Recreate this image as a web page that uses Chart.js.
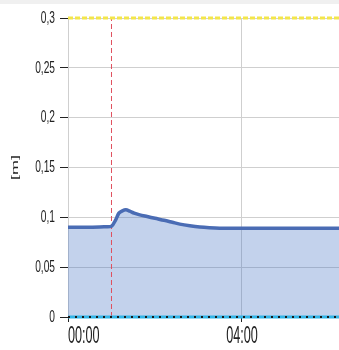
<!DOCTYPE html>
<html>
<head>
<meta charset="utf-8">
<script src="https://cdn.jsdelivr.net/npm/chart.js@4/dist/chart.umd.min.js"></script>
<style>
  html, body { margin: 0; padding: 0; background: #fff; }
  #wrap { position: relative; width: 339px; height: 350px; }
  #topband { position: absolute; left: 0; top: 0; width: 339px; height: 4px; background: #f0f0f0; }
  canvas { display: block; }
</style>
</head>
<body>
<div id="wrap">
  <canvas id="c" width="339" height="350"></canvas>
  <div id="topband"></div>
</div>
<script>
// Water level over time (hours from 00:00), in metres
const hours  = [0, 0.5, 0.83, 1.0, 1.09, 1.17, 1.25, 1.33, 1.42, 1.52, 1.65, 1.82, 2.0, 2.21, 2.4, 2.57, 2.8, 3.03, 3.25, 3.49, 4.0, 5.0, 6.23];
const levels = [0.090, 0.090, 0.0905, 0.091, 0.097, 0.1042, 0.1065, 0.1075, 0.1062, 0.1042, 0.1025, 0.1008, 0.099, 0.097, 0.095, 0.0932, 0.0915, 0.0902, 0.0895, 0.0891, 0.089, 0.089, 0.089];

// Limits and marker
const upperLimit = 0.3;
const lowerLimit = 0;
const markerHour = 1.0;

// Axis ticks
const xTickHours = [0, 4];
const yTickValues = [0, 0.05, 0.1, 0.15, 0.2, 0.25, 0.3];
const xMin = 0, xMax = 6.23;

const levelPoints = hours.map((h, i) => ({ x: h, y: levels[i] }));
const span = v => [{ x: xMin, y: v }, { x: xMax, y: v }];

const face = "'Liberation Sans', Arial, sans-serif";
const Y_TICK_SIZE = 17, X_TICK_SIZE = 23, TITLE_SIZE = 18;

// Condensed lettering: squeeze glyphs along x (ticks) or along the
// rotated title's height, keyed by font size.
const squeeze = { [Y_TICK_SIZE]: [0.6, 1], [X_TICK_SIZE]: [0.55, 1], [TITLE_SIZE]: [1, 0.55] };
const condensedText = {
  id: 'condensedText',
  beforeInit(chart) {
    const ctx = chart.ctx;
    const base = ctx.fillText.bind(ctx);
    ctx.fillText = function (t, x, y, mw) {
      const m = /(\d+(?:\.\d+)?)px/.exec(ctx.font);
      const k = m && squeeze[Math.round(+m[1])];
      if (!k) return mw === undefined ? base(t, x, y) : base(t, x, y, mw);
      ctx.save();
      ctx.scale(k[0], k[1]);
      base(t, x / k[0], y / k[1]);
      ctx.restore();
    };
  }
};

new Chart(document.getElementById('c'), {
  type: 'line',
  plugins: [condensedText],
  data: {
    datasets: [
      { // blue level line
        data: levelPoints, borderColor: '#4a6cb4', borderWidth: 3.5,
        pointRadius: 0, fill: false, tension: 0.3, order: 0
      },
      { // lower limit, dotted overlay
        data: span(lowerLimit), borderColor: '#1a1a1a', borderWidth: 2,
        borderDash: [2, 5], pointRadius: 0, fill: false, order: 1, clip: 4
      },
      { // lower limit
        data: span(lowerLimit), borderColor: '#33b5e8', borderWidth: 3,
        pointRadius: 0, fill: false, order: 2, clip: 4
      },
      { // upper limit
        data: span(upperLimit), borderColor: '#f3e64a', borderWidth: 3,
        borderDash: [5, 2], pointRadius: 0, fill: false, order: 3, clip: 4
      },
      { // time marker
        data: [{ x: markerHour, y: 0 }, { x: markerHour, y: upperLimit }],
        borderColor: '#e0505f', borderWidth: 1, borderDash: [5, 3],
        pointRadius: 0, fill: false, order: 4
      },
      { // area under the level
        data: levelPoints, borderWidth: 0, borderColor: 'rgba(0,0,0,0)',
        backgroundColor: 'rgba(68,114,196,0.32)', pointRadius: 0,
        fill: 'origin', tension: 0.3, order: 5
      }
    ]
  },
  options: {
    responsive: false,
    animation: false,
    layout: { padding: { top: 18, right: 0, left: 0, bottom: 0 } },
    plugins: { legend: { display: false }, tooltip: { enabled: false } },
    scales: {
      x: {
        type: 'linear', min: xMin, max: xMax,
        afterBuildTicks: s => { s.ticks = xTickHours.map(v => ({ value: v })); },
        afterFit: s => { s.height = 33; },
        grid: { color: '#cfcfcf', lineWidth: 1, tickColor: '#222', tickLength: 5 },
        border: { display: false },
        ticks: {
          maxRotation: 0, padding: 1, color: '#222',
          font: { family: face, size: X_TICK_SIZE },
          callback: v => {
            const t = String(Math.round(v)).padStart(2, '0') + ':00';
            return v === 0 ? '\u2007\u2007\u2007\u2007 ' + t : t;
          }
        }
      },
      y: {
        min: 0, max: upperLimit,
        afterBuildTicks: s => { s.ticks = yTickValues.map(v => ({ value: v })); },
        afterFit: s => { s.width = 68; },
        grid: { color: '#cfcfcf', lineWidth: 1, tickColor: '#222', tickLength: 8 },
        border: { display: true, color: '#cfcfcf' },
        ticks: {
          padding: 5, color: '#222',
          font: { family: face, size: Y_TICK_SIZE },
          callback: v => String(+v.toFixed(2)).replace('.', ',')
        },
        title: {
          display: true, text: '[m]', color: '#222',
          font: { family: face, size: TITLE_SIZE },
          padding: { top: 4, bottom: 0 }
        }
      }
    }
  }
});
</script>
</body>
</html>
